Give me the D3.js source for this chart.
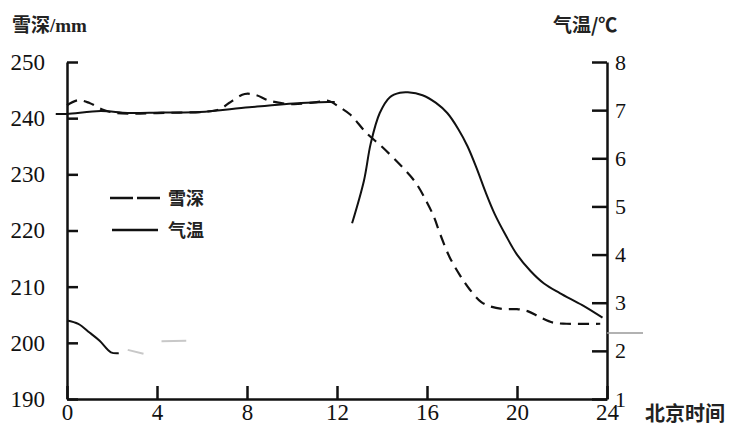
<!DOCTYPE html>
<html>
<head>
<meta charset="utf-8">
<script src="https://cdn.jsdelivr.net/npm/d3@7"></script>
<style>
  body { margin: 0; background: #fff; }
  svg { display: block; }
  svg text.num, svg tspan.num { font-family: 'Liberation Serif', 'Times New Roman', Times, 'DejaVu Serif', serif !important; }
  svg text.cjk { font-family: 'Noto Sans CJK SC', sans-serif; font-weight: bold; }
</style>
</head>
<body>
<svg id="chart" width="743" height="425"></svg>
<script>
// hours, snow depth in mm (dashed, left axis)
const snowDepth = [
  [0, 242.3], [0.5, 243.2], [1.0, 242.7], [1.6, 241.5], [2.2, 240.9], [3, 240.8], [4, 240.9],
  [5, 241], [6, 241.1], [6.8, 241.6], [7.2, 242.7], [7.9, 244.3], [8.4, 244.1], [9.0, 243.1],
  [10, 242.5], [11, 242.8], [11.6, 243.1], [12.1, 242.0], [12.6, 240.6], [13.3, 237.4],
  [14.0, 234.9], [14.9, 231.3], [15.5, 228.5], [16.0, 225], [16.3, 222.5], [16.6, 219.2],
  [17.0, 215.3], [17.5, 211.8], [17.9, 209.5], [18.4, 207.3], [18.8, 206.5], [19.4, 206.0],
  [20.0, 206.0], [20.5, 205.6], [21.0, 204.6], [21.6, 203.6], [22.2, 203.4], [23.7, 203.4]
]

// air temperature in degC (solid, right axis), pieces as printed
const tempEarly = [
  [-0.5, 6.92], [0, 6.92], [1.5, 6.98], [2.7, 6.94], [4.2, 6.95], [5.9, 6.96],
  [8.1, 7.06], [10.4, 7.15], [11.6, 7.17], [11.9, 7.17]
]
const tempLate = [
  [12.67, 4.65], [13.2, 5.54], [13.5, 6.31], [13.9, 6.94], [14.35, 7.27], [14.8, 7.36],
  [15.15, 7.37], [15.8, 7.31], [16.4, 7.15], [16.9, 6.94], [17.4, 6.6], [17.8, 6.25],
  [18.2, 5.8], [18.6, 5.3], [19.0, 4.85], [19.5, 4.4], [20.0, 4.0], [20.6, 3.66],
  [21.2, 3.4], [21.9, 3.2], [22.9, 2.95], [23.8, 2.69]
]
const tempLow = [[0, 2.63], [0.5, 2.56], [1.0, 2.38], [1.45, 2.21], [1.95, 1.97], [2.3, 1.95]]
const tempFaint = [
  [[2.7, 2.02], [3.4, 1.94]],
  [[4.2, 2.2], [5.3, 2.21]]
]

const hourTicks = [0, 4, 8, 12, 16, 20, 24]
const depthTicks = [190, 200, 210, 220, 230, 240, 250]
const tempTicks = [1, 2, 3, 4, 5, 6, 7, 8]

const svg = d3.select('#chart')
const ink = '#111'

const x = d3.scaleLinear().domain([0, 24]).range([67, 607])
const yL = d3.scaleLinear().domain([190, 250]).range([399, 62])
const yR = d3.scaleLinear().domain([1, 8]).range([399, 62])

const styleAxis = size => g => {
  g.attr('font-family', null).attr('font-size', size)
  g.select('.domain').attr('stroke', ink).attr('stroke-width', 2.5)
  g.selectAll('.tick line').attr('stroke', ink).attr('stroke-width', 2.5)
  g.selectAll('.tick text').attr('fill', ink).attr('class', 'num')
}

// left axis
svg.append('g')
  .attr('transform', `translate(${x(0)},0)`)
  .call(d3.axisLeft(yL).tickValues(depthTicks).tickSizeInner(-11).tickSizeOuter(0).tickPadding(22))
  .call(styleAxis(23))

// right axis
svg.append('g')
  .attr('transform', `translate(${x(24)},0)`)
  .call(d3.axisRight(yR).tickValues(tempTicks).tickFormat(d3.format('d'))
    .tickSizeInner(-15).tickSizeOuter(0).tickPadding(8))
  .call(styleAxis(22))

// bottom axis
svg.append('g')
  .attr('transform', `translate(0,${yL(190)})`)
  .call(d3.axisBottom(x).tickValues(hourTicks).tickSizeInner(-13).tickSizeOuter(0).tickPadding(5))
  .call(styleAxis(23))

// lines
const lineL = d3.line().x(d => x(d[0])).y(d => yL(d[1])).curve(d3.curveCatmullRom)
const lineR = d3.line().x(d => x(d[0])).y(d => yR(d[1])).curve(d3.curveCatmullRom)

svg.append('path').datum(snowDepth).attr('d', lineL)
  .attr('fill', 'none').attr('stroke', ink).attr('stroke-width', 2.2)
  .attr('stroke-dasharray', '11,7')

;[tempEarly, tempLate, tempLow].forEach(seg => {
  svg.append('path').datum(seg).attr('d', lineR)
    .attr('fill', 'none').attr('stroke', ink).attr('stroke-width', 2)
})

tempFaint.forEach(seg => {
  svg.append('path').datum(seg).attr('d', lineR)
    .attr('fill', 'none').attr('stroke', '#c8c8c8').attr('stroke-width', 2)
})

// stray mark right of the temperature axis
svg.append('line')
  .attr('x1', x(24)).attr('x2', x(25.6)).attr('y1', yR(2.37)).attr('y2', yR(2.37))
  .attr('stroke', '#999').attr('stroke-width', 1.5)

// legend
const legend = svg.append('g').attr('fill', '#222')
legend.append('line').attr('x1', 110).attr('x2', 160).attr('y1', 198).attr('y2', 198)
  .attr('stroke', ink).attr('stroke-width', 2.5).attr('stroke-dasharray', '23,4')
legend.append('text').attr('class', 'cjk').attr('x', 168).attr('y', 205).attr('font-size', 18).text('雪深')
legend.append('line').attr('x1', 112).attr('x2', 158).attr('y1', 230).attr('y2', 230)
  .attr('stroke', ink).attr('stroke-width', 2.5)
legend.append('text').attr('class', 'cjk').attr('x', 168).attr('y', 237).attr('font-size', 18).text('气温')

// axis titles
const leftTitle = svg.append('text').attr('class', 'cjk').attr('x', 12).attr('y', 32)
  .attr('fill', '#222').attr('font-size', 19)
leftTitle.append('tspan').text('雪深')
leftTitle.append('tspan').attr('class', 'num').text('/mm')

svg.append('text').attr('class', 'cjk').attr('x', 553).attr('y', 32)
  .attr('fill', '#222').attr('font-size', 19).text('气温/℃')

svg.append('text').attr('class', 'cjk').attr('x', 645).attr('y', 421)
  .attr('fill', '#222').attr('font-size', 20).text('北京时间')
</script>
</body>
</html>
